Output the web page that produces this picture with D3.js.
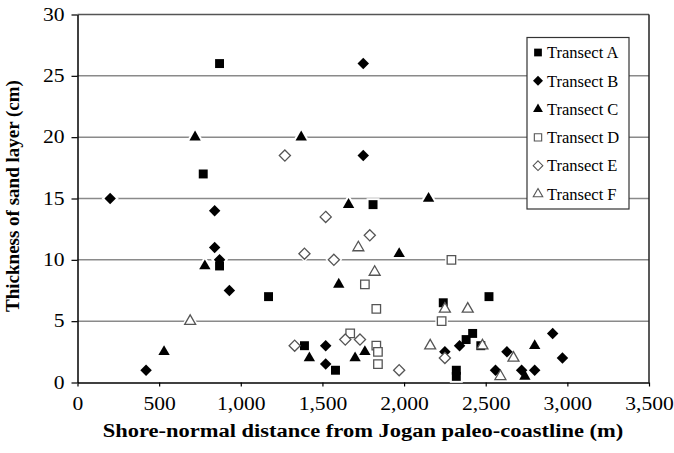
<!DOCTYPE html>
<html>
<head>
<meta charset="utf-8">
<script src="https://cdn.jsdelivr.net/npm/d3@7"></script>
<style>
  body { margin: 0; background: #fff; }
  text { font-family: "Liberation Serif", "Times New Roman", serif; fill: #000; }
</style>
</head>
<body>
<svg id="chart" width="674" height="453"></svg>
<script>
// transect data: distance (m) / sand thickness (cm)
var seriesNames = ["Transect A", "Transect B", "Transect C", "Transect D", "Transect E", "Transect F"];

var aDist  = [870, 770, 870, 1170, 1390, 1580, 1810, 2240, 2320, 2320, 2380, 2420, 2470, 2520];
var aThick = [26, 17, 9.5, 7, 3, 1, 14.5, 6.5, 1, 0.5, 3.5, 4, 3, 7];

var bDist  = [200, 420, 840, 840, 870, 930, 1750, 1750, 1520, 1520, 2250, 2340, 2560, 2630, 2720, 2800, 2910, 2970];
var bThick = [15, 1, 14, 11, 10, 7.5, 26, 18.5, 3, 1.5, 2.5, 3, 1, 2.5, 1, 1, 4, 2];

var cDist  = [530, 720, 780, 1370, 1420, 1600, 1660, 1700, 1760, 1970, 2150, 2740, 2800];
var cThick = [2.5, 20, 9.5, 20, 2, 8, 14.5, 2, 2.5, 10.5, 15, 0.5, 3];

var dDist  = [1670, 1760, 1830, 1830, 1840, 1840, 2230, 2290];
var dThick = [4, 8, 6, 3, 2.5, 1.5, 5, 10];

var eDist  = [1270, 1330, 1390, 1520, 1570, 1640, 1730, 1790, 1970, 2250];
var eThick = [18.5, 3, 10.5, 13.5, 10, 3.5, 3.5, 12, 1, 2];

var fDist  = [690, 1720, 1820, 2160, 2250, 2390, 2480, 2590, 2670];
var fThick = [5, 11, 9, 3, 6, 6, 3, 0.5, 2];

var xTicks = [0, 500, 1000, 1500, 2000, 2500, 3000, 3500];
var yTicks = [0, 5, 10, 15, 20, 25, 30];

var svg = d3.select("#chart");

var x = d3.scaleLinear().domain([0, 3500]).range([77.5, 649]);
var y = d3.scaleLinear().domain([0, 30]).range([382.5, 14.5]);

// diamond as a rotated square (d3's own diamond is too narrow)
var diamond = {
  draw: function(ctx, size) {
    var r = Math.sqrt(size / 2);
    ctx.moveTo(0, -r); ctx.lineTo(r, 0); ctx.lineTo(0, r); ctx.lineTo(-r, 0); ctx.closePath();
  }
};

var styles = [
  { type: d3.symbolSquare,   size: 80, filled: true },
  { type: diamond,           size: 66, filled: true },
  { type: d3.symbolTriangle, size: 56, filled: true },
  { type: d3.symbolSquare,   size: 72, filled: false },
  { type: diamond,           size: 62, filled: false },
  { type: d3.symbolTriangle, size: 52, filled: false }
];

var series = [
  [aDist, aThick], [bDist, bThick], [cDist, cThick],
  [dDist, dThick], [eDist, eThick], [fDist, fThick]
].map(function(s, i) {
  return s[0].map(function(d, j) { return { x: d, y: s[1][j], s: i }; });
});

// gridlines
svg.append("g").selectAll("line")
  .data(yTicks.filter(function(d) { return d > 0 && d < 30; }))
  .enter().append("line")
  .attr("x1", x(0)).attr("x2", x(3500))
  .attr("y1", function(d) { return y(d); })
  .attr("y2", function(d) { return y(d); })
  .attr("stroke", "#8a8a8a")
  .attr("stroke-width", 1.5);

// plot frame top / right
svg.append("line")
  .attr("x1", x(0)).attr("x2", x(3500)).attr("y1", y(30)).attr("y2", y(30))
  .attr("stroke", "#555").attr("stroke-width", 1.5);
svg.append("line")
  .attr("x1", x(3500)).attr("x2", x(3500)).attr("y1", y(30)).attr("y2", y(0))
  .attr("stroke", "#222").attr("stroke-width", 1.5);

// axes
var xAxis = svg.append("g")
  .attr("transform", "translate(0," + y(0) + ")")
  .call(d3.axisBottom(x).tickValues(xTicks).tickSize(4).tickSizeOuter(0).tickPadding(11)
    .tickFormat(d3.format(",")));
var yAxis = svg.append("g")
  .attr("transform", "translate(" + x(0) + ",0)")
  .call(d3.axisLeft(y).tickValues(yTicks).tickSize(6).tickSizeOuter(0).tickPadding(7));

[xAxis, yAxis].forEach(function(ax) {
  ax.selectAll("path.domain").attr("stroke", "#000").attr("stroke-width", 1.5);
  ax.selectAll(".tick line").attr("stroke", "#000").attr("stroke-width", 1.2);
  ax.selectAll(".tick text")
    .attr("fill", "#000")
    .style("font-size", "18px")
    .style("font-family", "'Liberation Serif', serif")
    .each(function() {
      var t = d3.select(this);
      var tx = +t.attr("x") || 0, ty = +t.attr("y") || 0;
      t.attr("x", 0).attr("y", 0)
        .attr("transform", "translate(" + tx + "," + ty + ") scale(1.2,1)");
    });
});

// markers: white halo first so the gridlines break round them
var pts = svg.append("g");
series.forEach(function(data, i) {
  var st = styles[i];
  var sym = d3.symbol().type(st.type).size(st.size);
  pts.selectAll("path.halo-" + i)
    .data(data).enter().append("path")
    .attr("class", "halo-" + i)
    .attr("d", sym)
    .attr("transform", function(d) { return "translate(" + x(d.x) + "," + y(d.y) + ")"; })
    .attr("fill", "#fff").attr("stroke", "#fff").attr("stroke-width", 4);
});
series.forEach(function(data, i) {
  var st = styles[i];
  var sym = d3.symbol().type(st.type).size(st.size);
  pts.selectAll("path.mark-" + i)
    .data(data).enter().append("path")
    .attr("class", "mark-" + i)
    .attr("d", sym)
    .attr("transform", function(d) { return "translate(" + x(d.x) + "," + y(d.y) + ")"; })
    .attr("fill", st.filled ? "#000" : "#fff")
    .attr("stroke", st.filled ? "none" : "#555")
    .attr("stroke-width", 1.3);
});

// legend
var legend = svg.append("g").attr("transform", "translate(527,37.5)");
legend.append("rect")
  .attr("width", 102).attr("height", 171.5)
  .attr("fill", "#fff").attr("stroke", "#333").attr("stroke-width", 1.2);
var items = legend.selectAll("g.item")
  .data(seriesNames)
  .enter().append("g")
  .attr("class", "item")
  .attr("transform", function(d, i) { return "translate(0," + (15 + i * 28.3) + ")"; });
items.append("path")
  .attr("d", function(d, i) { return d3.symbol().type(styles[i].type).size(styles[i].size * 0.75)(); })
  .attr("transform", "translate(11,0)")
  .attr("fill", function(d, i) { return styles[i].filled ? "#000" : "#fff"; })
  .attr("stroke", function(d, i) { return styles[i].filled ? "none" : "#555"; })
  .attr("stroke-width", 1.1);
items.append("text")
  .attr("x", 20).attr("dy", "0.35em")
  .style("font-size", "16.5px")
  .text(function(d) { return d; });

// axis titles
svg.append("text")
  .attr("transform", "translate(363,437) scale(1.25,1)")
  .attr("text-anchor", "middle")
  .style("font-size", "18px").style("font-weight", "bold")
  .text("Shore-normal distance from Jogan paleo-coastline (m)");
svg.append("text")
  .attr("transform", "translate(19,196) rotate(-90)")
  .attr("text-anchor", "middle")
  .style("font-size", "19px").style("font-weight", "bold")
  .text("Thickness of sand layer (cm)");
</script>
</body>
</html>
